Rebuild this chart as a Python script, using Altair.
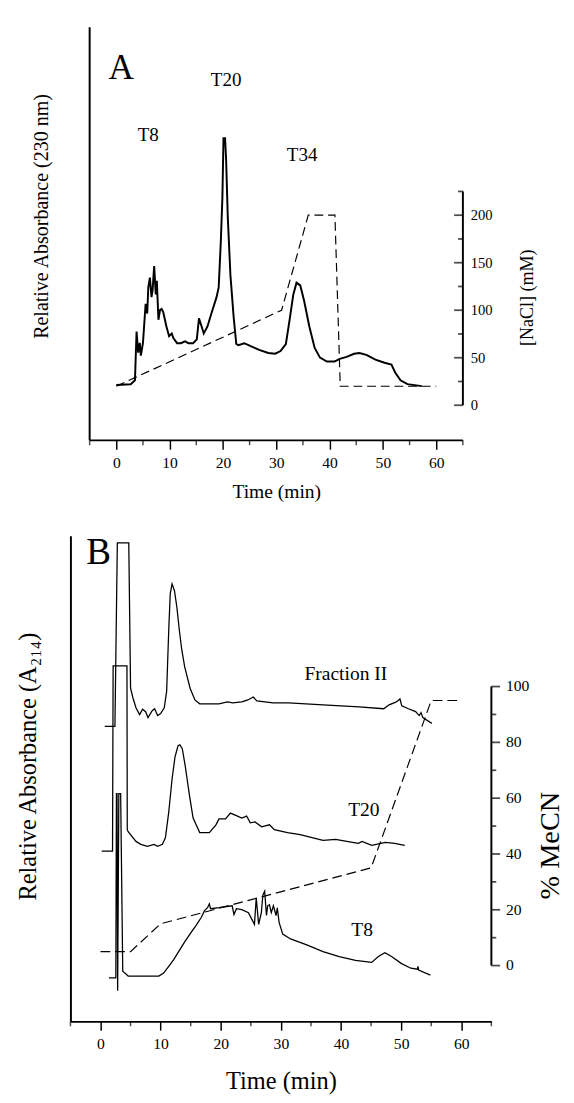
import altair as alt
import pandas as pd

FONT = "Liberation Serif"
INK = "black"

# ---------------- Panel A : anion exchange, absorbance 230 nm ----------------
A_time = [0, 2.7, 3.5, 3.8, 4.1, 4.4, 4.6, 5.0, 5.5, 5.8, 6.0, 6.3, 6.6, 6.8, 7.1, 7.4,
          7.6, 7.9, 8.2, 8.5, 8.8, 9.4, 9.9, 10.4, 10.7, 11.4, 12.1, 12.9, 13.5, 14.4,
          15.1, 15.5, 16.0, 16.4, 17.1, 17.8, 18.8, 19.2, 19.6, 19.9, 20.1, 20.4, 20.6,
          20.9, 21.4, 22.0, 22.5, 22.9, 24.0, 25.1, 26.8, 28.5, 29.8, 30.8, 31.8, 32.5,
          33.2, 33.8, 34.5, 35.2, 36.2, 37.2, 38.2, 39.5, 40.9, 41.9, 43.2, 44.6, 45.6,
          46.9, 48.6, 50.3, 51.6, 52.3, 53.3, 54.6, 57.3]
A_abs = [14.2, 14.4, 15.4, 27.9, 22.5, 25.0, 21.7, 25.0, 35.0, 32.5, 39.2, 41.7, 36.7,
         38.4, 44.7, 37.4, 40.9, 30.9, 33.4, 33.7, 32.9, 29.2, 26.7, 27.4, 26.2, 24.9,
         24.9, 25.4, 24.9, 24.9, 25.9, 31.25, 29.2, 27.4, 29.2, 32.4, 36.7, 39.2, 50.9,
         62.4, 77.4, 77.4, 71.7, 57.4, 42.4, 31.7, 24.7, 24.4, 24.9, 24.2, 23.2, 22.4,
         22.2, 22.9, 24.7, 30.9, 37.4, 40.4, 39.7, 35.9, 29.2, 23.7, 21.2, 20.2, 20.2,
         20.9, 21.4, 22.2, 22.4, 21.9, 20.7, 19.9, 19.4, 17.4, 15.4, 14.4, 13.9]
A_nacl_time = [0, 31, 36, 41, 42, 60]
A_nacl = [20, 100, 200, 200, 20, 20]
A_major_x = [0, 10, 20, 30, 40, 50, 60]
A_minor_x = [-5, 5, 15, 25, 35, 45, 55, 65]
A_right_ticks = [0, 25, 50, 75, 100, 125, 150, 175, 200, 225]
A_peak_labels = ["T8", "T20", "T34"]
A_peak_t = [6.0, 20.6, 34.85]
A_peak_a = [78.2, 92.2, 73.2]

# ---------------- Panel B : reversed phase, absorbance 214 nm ----------------
B_f2_time = [0.7, 2.4, 2.8, 4.7, 5.0, 5.4, 5.9, 6.5, 7.0, 7.5, 7.9, 8.6, 9.0, 9.5, 10.0,
             10.6, 11.0, 11.35, 11.6, 11.9, 12.3, 12.7, 13.1, 13.5, 14.0, 14.9, 15.7,
             16.5, 19.7, 21.1, 22.0, 23.5, 24.5, 25.4, 26.0, 28.7, 31.3, 37.0, 43.0,
             47.1, 48.0, 49.2, 49.8, 50.1, 51.2, 52.4, 53.0, 53.3, 53.6, 55.1]
B_f2_abs = [60.5, 60.5, 98.1, 98.1, 68.3, 66.3, 64.3, 62.9, 64.0, 63.5, 62.3, 63.7, 64.1,
            62.7, 63.1, 64.3, 67.7, 80.3, 87.7, 89.7, 88.3, 84.9, 80.3, 76.3, 72.7, 68.3,
            65.9, 65.1, 65.1, 65.5, 65.3, 65.5, 65.9, 66.5, 65.7, 65.3, 65.3, 64.9, 64.5,
            64.1, 64.9, 65.5, 66.1, 64.7, 64.1, 63.5, 62.7, 63.3, 62.3, 61.1]
B_t20_time = [0.2, 2.0, 2.1, 4.4, 4.45, 4.6, 5.9, 6.7, 7.8, 8.9, 9.5, 10.3, 10.8, 11.35,
              11.9, 12.4, 12.9, 13.2, 13.6, 14.1, 14.4, 14.8, 15.4, 16.5, 18.1, 19.2,
              19.7, 20.8, 21.6, 22.4, 23.5, 24.3, 24.9, 25.7, 26.8, 28.1, 28.9, 31.1,
              33.2, 37.0, 39.1, 41.9, 42.9, 43.5, 45.1, 47.4, 48.9, 50.6]
B_t20_abs = [34.9, 34.9, 72.9, 72.9, 39.3, 38.9, 36.9, 36.3, 35.9, 36.3, 35.9, 36.3, 37.7,
             42.9, 49.7, 54.3, 56.5, 56.7, 55.9, 52.3, 49.7, 46.3, 41.7, 38.7, 38.7, 40.3,
             41.5, 41.5, 42.7, 42.3, 41.7, 42.1, 40.7, 40.9, 39.9, 40.3, 39.3, 38.7, 38.3,
             37.1, 37.3, 36.7, 36.5, 36.9, 36.1, 36.7, 36.5, 36.1]
B_t8_time = [1.4, 2.55, 2.65, 2.75, 2.85, 3.05, 3.35, 3.7, 4.05, 4.6, 7.3, 9.7, 10.5, 11.35,
             12.2, 13.2, 14.0, 15.1, 15.9, 16.75, 17.3, 17.8, 18.1, 18.3, 19.7, 21.9, 22.2,
             22.6, 23.5, 24.6, 25.6, 25.9, 26.3, 26.75, 27.0, 27.3, 27.6, 27.8, 28.1, 28.4,
             28.75, 29.2, 29.4, 29.7, 30.3, 31.6, 34.3, 37.0, 39.7, 42.4, 45.1, 46.2, 47.3,
             48.4, 50.0, 51.6, 52.7, 52.8, 52.9, 54.85]
B_t8_abs = [8.9, 8.9, 46.7, 46.7, 6.3, 46.7, 46.7, 10.3, 9.9, 9.3, 9.3, 9.3, 9.9, 11.3,
            12.7, 14.7, 16.3, 18.3, 19.7, 21.3, 22.7, 23.3, 24.1, 23.1, 23.3, 23.7, 21.9,
            23.1, 22.9, 22.3, 19.9, 25.3, 19.9, 22.3, 25.9, 26.7, 21.7, 23.7, 23.9, 22.3,
            23.7, 21.7, 23.3, 20.3, 17.9, 16.9, 15.7, 14.3, 13.3, 12.5, 12.1, 13.3, 14.1,
            13.3, 11.9, 10.9, 10.7, 11.3, 10.5, 9.5]
B_mecn_time = [0, 5, 10, 45, 55, 60]
B_mecn = [5, 5, 15, 35, 95, 95]
B_major_x = [0, 10, 20, 30, 40, 50, 60]
B_minor_x = [-5, 5, 15, 25, 35, 45, 55, 65]
B_right_ticks = [0, 10, 20, 30, 40, 50, 60, 70, 80, 90, 100]
B_trace_labels = ["Fraction II", "T20", "T8"]
B_label_t = [40.8, 43.8, 43.5]
B_label_a = [71.1, 43.4, 18.8]

# ---------------- scales ----------------
T_START, T_END = -5, 65
A_TOP = 105.85
A_X = alt.Scale(domain=[-8.604, T_END], nice=False, zero=False)
A_Y = alt.Scale(domain=[0, A_TOP], nice=False, zero=False)
A_N = alt.Scale(domain=[-36.96, 397.7], nice=False, zero=False)
B_X = alt.Scale(domain=[T_START, T_END], nice=False, zero=False)
B_Y = alt.Scale(domain=[0, 99.54], nice=False, zero=False)
B_M = alt.Scale(domain=[-20.0, 154.0], nice=False, zero=False)


def xaxis(values, fs_lab, title, fs_title, title_x, title_y, domain):
    return alt.Axis(values=values, domain=domain, domainColor=INK, domainWidth=2,
                    grid=False, tickColor=INK, tickWidth=1.5, tickSize=9,
                    labelFont=FONT, labelFontSize=fs_lab, labelColor=INK, labelPadding=6,
                    labelOverlap=False, labelFlush=False, format="d",
                    title=title, titleFont=FONT, titleFontSize=fs_title, titleFontWeight="normal",
                    titleColor=INK, titleX=title_x, titleY=title_y, titleAlign="center",
                    titleBaseline="middle")


def side_title(orient, title, fs, tx, ty, domain=False):
    return alt.Axis(orient=orient, domain=domain, domainColor=INK, domainWidth=2, ticks=False,
                    labels=False, grid=False, title=title, titleFont=FONT, titleFontSize=fs,
                    titleFontWeight="normal", titleColor=INK, titleX=tx, titleY=ty,
                    titleAngle=270, titleAlign="center", titleBaseline="middle")


def X(field, scale):
    return alt.X(field, type="quantitative", scale=scale, axis=None)


def Y(field, scale):
    return alt.Y(field, type="quantitative", scale=scale, axis=None)


# ---------------- Panel A ----------------
dfA = pd.DataFrame({"t": A_time, "a": A_abs, "i": range(len(A_time))})
traceA = alt.Chart(dfA).mark_line(color=INK, strokeWidth=2).encode(
    x=alt.X("t:Q", scale=A_X, axis=xaxis(A_major_x, 16, "Time (min)", 20, 211, 53, False)),
    y=alt.Y("a:Q", scale=A_Y,
            axis=side_title("left", "Relative Absorbance (230 nm)", 20.5, -30, 193.4)),
    order="i:Q")

frameA = pd.DataFrame({"t0": [T_START], "t1": [T_END], "a0": [0.0], "a1": [A_TOP]})
leftA = alt.Chart(frameA).mark_rule(color=INK, strokeWidth=2).encode(
    x=X("t0", A_X), y=Y("a0", A_Y), y2="a1:Q")
bottomA = alt.Chart(frameA).mark_rule(color=INK, strokeWidth=2).encode(
    x=X("t0", A_X), x2="t1:Q", y=Y("a0", A_Y))
minxA = alt.Chart(pd.DataFrame({"t": A_minor_x, "a": [0.0] * len(A_minor_x)})).mark_tick(
    orient="vertical", size=5, thickness=1.5, color=INK, yOffset=2.5).encode(
    x=X("t", A_X), y=Y("a", A_Y))

dfAlab = pd.DataFrame({"t": A_peak_t, "a": A_peak_a, "txt": A_peak_labels})
labA = alt.Chart(dfAlab).mark_text(font=FONT, fontSize=19.5, color=INK, align="center",
                                   baseline="middle").encode(
    x=X("t", A_X), y=Y("a", A_Y), text="txt:N")
letterA = alt.Chart(pd.DataFrame({"t": [-1.46], "a": [95.4], "txt": ["A"]})).mark_text(
    font=FONT, fontSize=36, color=INK, align="left", baseline="middle").encode(
    x=X("t", A_X), y=Y("a", A_Y), text="txt:N")

dfAn = pd.DataFrame({"t": A_nacl_time, "n": A_nacl})
naclA = alt.Chart(dfAn).mark_line(color=INK, strokeWidth=1.2, strokeDash=[9, 5]).encode(
    x=X("t", A_X), y=Y("n", A_N))
dfAr = pd.DataFrame({"t": [T_END] * len(A_right_ticks), "v": A_right_ticks})
raxA = alt.Chart(pd.DataFrame({"t": [T_END], "v0": [A_right_ticks[0]], "v1": [A_right_ticks[-1]]})
                 ).mark_rule(color=INK, strokeWidth=2).encode(
    x=X("t", A_X),
    y=alt.Y("v0:Q", scale=A_N, axis=side_title("right", "[NaCl] (mM)", 18.5, 65.5, 276.7)),
    y2="v1:Q")
majA = alt.Chart(dfAr).transform_filter("datum.v % 50 === 0").mark_tick(
    orient="horizontal", size=9, thickness=1.8, color=INK, xOffset=-4.5).encode(
    x=X("t", A_X), y=Y("v", A_N))
minA = alt.Chart(dfAr).transform_filter("datum.v % 50 !== 0").mark_tick(
    orient="horizontal", size=5, thickness=1.8, color=INK, xOffset=-2.5).encode(
    x=X("t", A_X), y=Y("v", A_N))
rlabA = alt.Chart(dfAr).transform_filter("datum.v % 50 === 0 && datum.v <= 200").mark_text(
    font=FONT, fontSize=15, color=INK, align="left", baseline="middle", dx=8).encode(
    x=X("t", A_X), y=Y("v", A_N), text=alt.Text("v:Q", format="d"))

panelA = alt.layer(traceA, raxA, leftA, bottomA, minxA, labA, letterA, naclA, majA, minA,
                   rlabA).resolve_scale(y="independent").resolve_axis(
    x="independent").properties(width=402.3, height=423.4)

# ---------------- Panel B ----------------
dfB = pd.concat([
    pd.DataFrame({"t": B_f2_time, "a": B_f2_abs, "s": "Fraction II", "i": range(len(B_f2_time))}),
    pd.DataFrame({"t": B_t20_time, "a": B_t20_abs, "s": "T20", "i": range(len(B_t20_time))}),
    pd.DataFrame({"t": B_t8_time, "a": B_t8_abs, "s": "T8", "i": range(len(B_t8_time))}),
])
traceB = alt.Chart(dfB).mark_line(color=INK, strokeWidth=1.3).encode(
    x=alt.X("t:Q", scale=B_X, axis=xaxis(B_major_x, 16, "Time (min)", 25, 215.75, 60.3, True)),
    y=alt.Y("a:Q", scale=B_Y,
            axis=side_title("left", "Relative Absorbance (A\u2082\u2081\u2084)", 25, -43.5, 236,
                            domain=True)),
    detail="s:N", order="i:Q")
minxB = alt.Chart(pd.DataFrame({"t": B_minor_x, "a": [0.0] * len(B_minor_x)})).mark_tick(
    orient="vertical", size=5, thickness=1.5, color=INK, yOffset=2.5).encode(
    x=X("t", B_X), y=Y("a", B_Y))
dfBlab = pd.DataFrame({"t": B_label_t, "a": B_label_a, "txt": B_trace_labels})
labB = alt.Chart(dfBlab).mark_text(font=FONT, fontSize=20, color=INK, align="center",
                                   baseline="middle").encode(
    x=X("t", B_X), y=Y("a", B_Y), text="txt:N")
letterB = alt.Chart(pd.DataFrame({"t": [-2.38], "a": [96.0], "txt": ["B"]})).mark_text(
    font=FONT, fontSize=38, color=INK, align="left", baseline="middle").encode(
    x=X("t", B_X), y=Y("a", B_Y), text="txt:N")

dfBm = pd.DataFrame({"t": B_mecn_time, "m": B_mecn})
mecnB = alt.Chart(dfBm).mark_line(color=INK, strokeWidth=1.2, strokeDash=[10, 5]).encode(
    x=X("t", B_X), y=Y("m", B_M))
dfBr = pd.DataFrame({"t": [T_END] * len(B_right_ticks), "v": B_right_ticks})
raxB = alt.Chart(pd.DataFrame({"t": [T_END], "v0": [B_right_ticks[0]], "v1": [B_right_ticks[-1]]})
                 ).mark_rule(color=INK, strokeWidth=2).encode(
    x=X("t", B_X),
    y=alt.Y("v0:Q", scale=B_M, axis=side_title("right", "% MeCN", 29, 59.5, 317)),
    y2="v1:Q")
majB = alt.Chart(dfBr).transform_filter("datum.v % 20 === 0").mark_tick(
    orient="horizontal", size=9, thickness=1.8, color=INK, xOffset=4.5).encode(
    x=X("t", B_X), y=Y("v", B_M))
minB = alt.Chart(dfBr).transform_filter("datum.v % 20 !== 0").mark_tick(
    orient="horizontal", size=5, thickness=1.8, color=INK, xOffset=2.5).encode(
    x=X("t", B_X), y=Y("v", B_M))
rlabB = alt.Chart(dfBr).transform_filter("datum.v % 20 === 0").mark_text(
    font=FONT, fontSize=16, color=INK, align="left", baseline="middle", dx=15).encode(
    x=X("t", B_X), y=Y("v", B_M), text=alt.Text("v:Q", format="d"))

panelB = alt.layer(traceB, raxB, minxB, labB, letterB, mecnB, majB, minB,
                   rlabB).resolve_scale(y="independent").resolve_axis(
    x="independent").properties(width=431.5, height=497.7)

chart = alt.vconcat(panelA, panelB, spacing=97.3, bounds="flush").properties(
    padding={"left": 8, "top": 5, "right": 2, "bottom": 2},
    background="white",
).configure_view(stroke=None)

chart.save("out.html", embed_options={"renderer": "svg", "actions": False})
